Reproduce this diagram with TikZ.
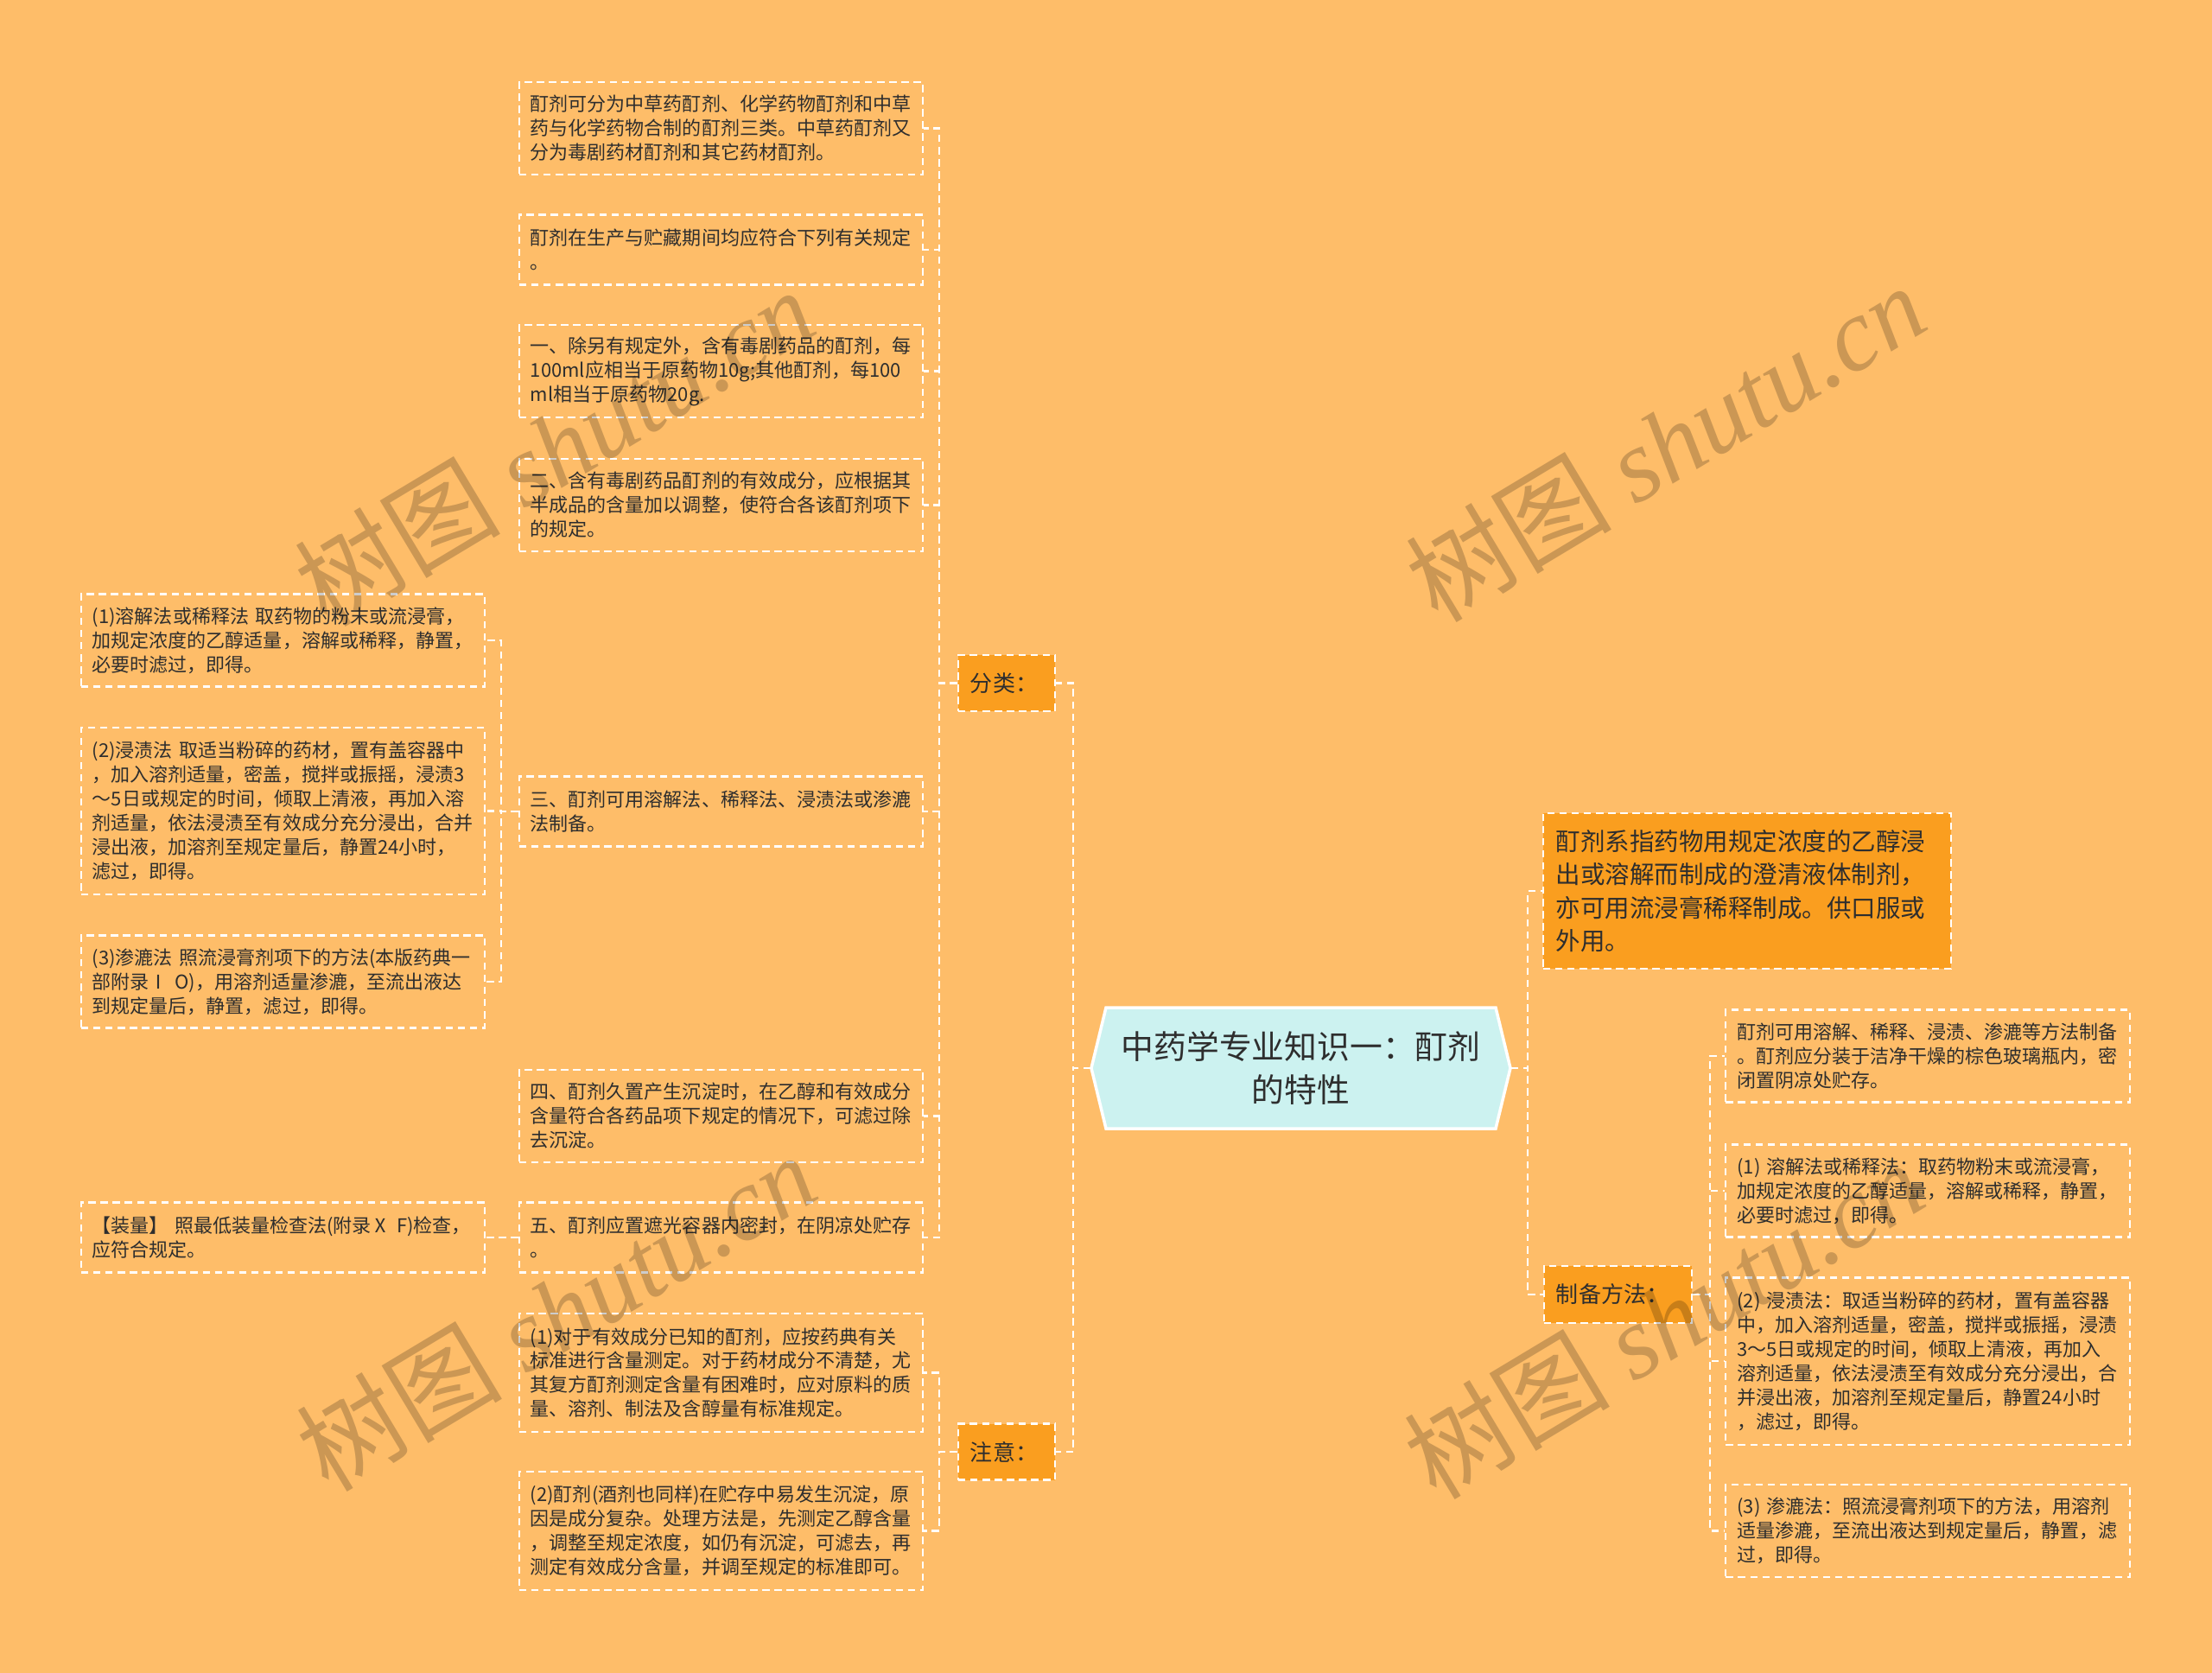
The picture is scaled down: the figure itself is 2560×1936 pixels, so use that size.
\documentclass[tikz,border=0pt]{standalone}
\usepackage{fontspec}
\setmainfont{Noto Sans CJK SC}
\newfontfamily\wmserif{Liberation Serif}
\usetikzlibrary{calc}
\definecolor{bgcol}{HTML}{FEBD69}
\definecolor{branchfill}{HTML}{FA9E1F}
\definecolor{centerfill}{HTML}{CCF2F0}
\definecolor{txt}{HTML}{2E2E2E}
\tikzset{
  dashline/.style={draw=white, line width=0.6pt, dash pattern=on 2.4pt off 1.6pt},
  conn/.style={dashline},
  leafbox/.style={dashline, text=txt, align=left, text width=4.41cm, inner xsep=0.13cm, inner ysep=0pt,
    font=\fontsize{6.26pt}{7.95pt}\selectfont},
  htwo/.style={minimum height=0.81cm},
  hthree/.style={minimum height=1.07cm},
  hfour/.style={minimum height=1.37cm},
  hsix/.style={minimum height=1.93cm},
  branchbox/.style={dashline, fill=branchfill, text=txt, align=left, inner xsep=0.14cm, inner ysep=0pt,
    minimum height=0.65cm, font=\fontsize{7.4pt}{9pt}\selectfont},
  mainbox/.style={dashline, fill=branchfill, text=txt, align=left, text width=4.42cm, inner xsep=0.15cm, inner ysep=0pt,
    minimum height=1.80cm, font=\fontsize{8.1pt}{10.9pt}\selectfont},
  centertext/.style={text=txt, align=center, minimum width=4.85cm, minimum height=1.40cm, inner sep=0pt,
    font=\fontsize{10.75pt}{14pt}\selectfont},
  hexline/.style={fill=centerfill, draw=white, line width=1pt, line join=miter},
  wmark/.style={rotate=31, text=black, text opacity=0.2, font=\fontsize{34pt}{34pt}\selectfont, inner sep=0pt}
}
\begin{document}
\begin{tikzpicture}[x=0.01cm,y=-0.01cm]
\fill[bgcol] (0,0) rectangle (2560,1936);
\useasboundingbox (0,0) rectangle (2560,1936);

% centre
\coordinate (cc) at (1505.5,1236);
\draw[hexline] ($(cc)+(-242.5,0)$) -- ($(cc)+(-225.5,-70)$) -- ($(cc)+(225.5,-70)$) -- ($(cc)+(242.5,0)$) -- ($(cc)+(225.5,70)$) -- ($(cc)+(-225.5,70)$) -- cycle;
\node[centertext] (center) at (cc) {中药学专业知识一：酊剂\\的特性};

% branches
\node[branchbox, minimum width=1.12cm, text width=0.84cm] (fenlei) at (1165,790.5) {分类：};
\node[branchbox, minimum width=1.12cm, text width=0.84cm] (zhuyi) at (1165,1680) {注意：};
\node[branchbox, minimum width=1.71cm, text width=1.43cm, minimum height=0.66cm] (zhibei) at (1872.5,1498) {制备方法：};
\node[mainbox] (dingyi) at (2022,1031) {酊剂系指药物用规定浓度的乙醇浸\\出或溶解而制成的澄清液体制剂，\\亦可用流浸膏稀释制成。供口服或\\外用。};

% children of 分类
\node[leafbox,hthree] (a1) at (834.5,148.5) {酊剂可分为中草药酊剂、化学药物酊剂和中草\\药与化学药物合制的酊剂三类。中草药酊剂又\\分为毒剧药材酊剂和其它药材酊剂。};
\node[leafbox,htwo] (a2) at (834.5,289) {酊剂在生产与贮藏期间均应符合下列有关规定\\。};
\node[leafbox,hthree] (a3) at (834.5,429.5) {一、除另有规定外，含有毒剧药品的酊剂，每\\100ml应相当于原药物10g;其他酊剂，每100\\ml相当于原药物20g.};
\node[leafbox,hthree] (a4) at (834.5,584.5) {二、含有毒剧药品酊剂的有效成分，应根据其\\半成品的含量加以调整，使符合各该酊剂项下\\的规定。};
\node[leafbox,htwo] (a5) at (834.5,939) {三、酊剂可用溶解法、稀释法、浸渍法或渗漉\\法制备。};
\node[leafbox,hthree] (a6) at (834.5,1291.5) {四、酊剂久置产生沉淀时，在乙醇和有效成分\\含量符合各药品项下规定的情况下，可滤过除\\去沉淀。};
\node[leafbox,htwo] (a7) at (834.5,1432) {五、酊剂应置遮光容器内密封，在阴凉处贮存\\。};

% children of 注意
\node[leafbox,hfour] (n1) at (834.5,1588.5) {(1)对于有效成分已知的酊剂，应按药典有关\\标准进行含量测定。对于药材成分不清楚，尤\\其复方酊剂测定含量有困难时，应对原料的质\\量、溶剂、制法及含醇量有标准规定。};
\node[leafbox,hfour] (n2) at (834.5,1771.5) {(2)酊剂(酒剂也同样)在贮存中易发生沉淀，原\\因是成分复杂。处理方法是，先测定乙醇含量\\，调整至规定浓度，如仍有沉淀，可滤去，再\\测定有效成分含量，并调至规定的标准即可。};

% children of 三
\node[leafbox,hthree] (l1) at (327.5,741) {(1)溶解法或稀释法~取药物的粉末或流浸膏，\\加规定浓度的乙醇适量，溶解或稀释，静置，\\必要时滤过，即得。};
\node[leafbox,hsix] (l2) at (327.5,938.5) {(2)浸渍法~取适当粉碎的药材，置有盖容器中\\，加入溶剂适量，密盖，搅拌或振摇，浸渍3\\～5日或规定的时间，倾取上清液，再加入溶\\剂适量，依法浸渍至有效成分充分浸出，合并\\浸出液，加溶剂至规定量后，静置24小时，\\滤过，即得。};
\node[leafbox,hthree] (l3) at (327.5,1136) {(3)渗漉法~照流浸膏剂项下的方法(本版药典一\\部附录Ⅰ~O)，用溶剂适量渗漉，至流出液达\\到规定量后，静置，滤过，即得。};
% child of 五
\node[leafbox,htwo] (l4) at (327.5,1432) {【装量】~照最低装量检查法(附录Ⅹ~F)检查，\\应符合规定。};

% children of 制备方法
\node[leafbox,hthree] (r1) at (2231,1222) {酊剂可用溶解、稀释、浸渍、渗漉等方法制备\\。酊剂应分装于洁净干燥的棕色玻璃瓶内，密\\闭置阴凉处贮存。};
\node[leafbox,hthree] (r2) at (2231,1378) {(1)~溶解法或稀释法：取药物粉末或流浸膏，\\加规定浓度的乙醇适量，溶解或稀释，静置，\\必要时滤过，即得。};
\node[leafbox,hsix] (r3) at (2231,1575) {(2)~浸渍法：取适当粉碎的药材，置有盖容器\\中，加入溶剂适量，密盖，搅拌或振摇，浸渍\\3～5日或规定的时间，倾取上清液，再加入\\溶剂适量，依法浸渍至有效成分充分浸出，合\\并浸出液，加溶剂至规定量后，静置24小时\\，滤过，即得。};
\node[leafbox,hthree] (r4) at (2231,1771.5) {(3)~渗漉法：照流浸膏剂项下的方法，用溶剂\\适量渗漉，至流出液达到规定量后，静置，滤\\过，即得。};

% connectors
\draw[conn] (center.west) -- ++(-20,0) |- (fenlei.east);
\draw[conn] (center.west) -- ++(-20,0) |- (zhuyi.east);
\draw[conn] (center.east) -- ++(19,0) |- (dingyi.west);
\draw[conn] (center.east) -- ++(19,0) |- (zhibei.west);
\foreach \n in {a1,a2,a3,a4,a5,a6,a7}
  \draw[conn] (fenlei.west) -- ++(-21,0) |- (\n.east);
\foreach \n in {n1,n2}
  \draw[conn] (zhuyi.west) -- ++(-21,0) |- (\n.east);
\foreach \n in {l1,l2,l3}
  \draw[conn] (a5.west) -- ++(-20,0) |- (\n.east);
\draw[conn] (a7.west) -- (l4.east);
\foreach \n in {r1,r2,r3,r4}
  \draw[conn] (zhibei.east) -- ++(20,0) |- (\n.west);

% watermarks
\node[wmark] (wm1) at (641,517) {树图 {\wmserif\itshape shutu.cn}};
\node[wmark] (wm2) at (1927,512) {树图 {\wmserif\itshape shutu.cn}};
\node[wmark] (wm3) at (643,1518) {树图 {\wmserif\itshape shutu.cn}};
\node[wmark] (wm4) at (1925,1527) {树图 {\wmserif\itshape shutu.cn}};
\end{tikzpicture}
\end{document}
